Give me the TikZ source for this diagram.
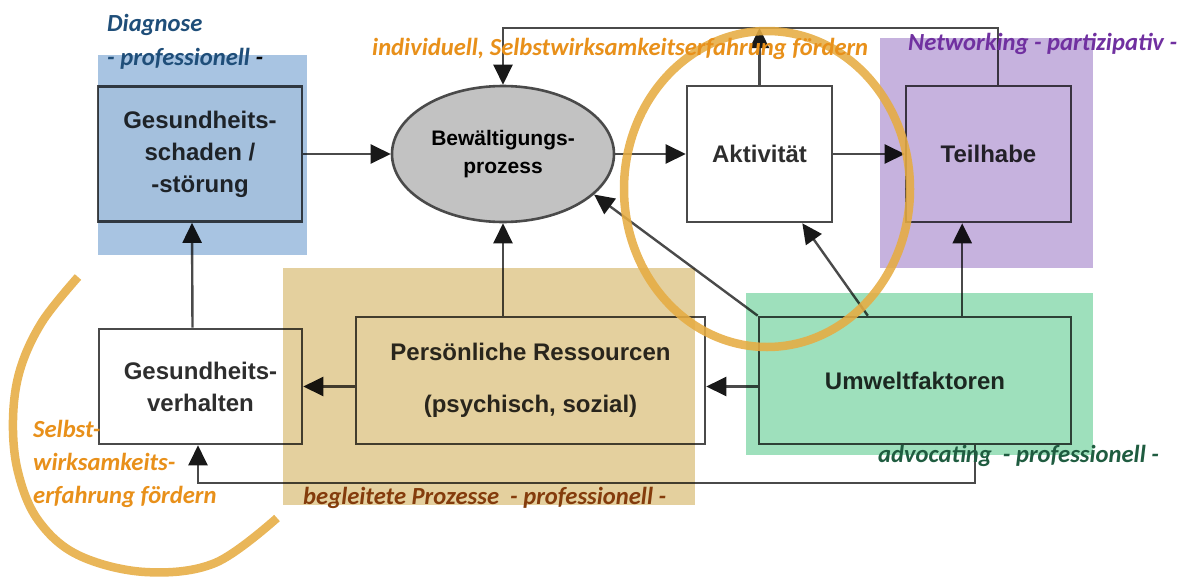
\documentclass[tikz,border=0pt]{standalone}
\usepackage{fontspec}
\setmainfont{Liberation Sans}
\newfontfamily\labfont{Carlito}
\usetikzlibrary{arrows.meta,calc,shapes.geometric}

\definecolor{linegray}{HTML}{4A4A4A}
\definecolor{txtgray}{HTML}{2E2E2E}
\definecolor{ellgray}{HTML}{C2C2C2}
\definecolor{ovblue}{HTML}{A8C4E2}
\definecolor{ovtan}{HTML}{E4D09E}
\definecolor{ovgreen}{HTML}{9EE0BC}
\definecolor{ovpurple}{HTML}{C6B2DE}
\definecolor{ringcol}{HTML}{E6AC42}
\definecolor{labblue}{HTML}{1F4E79}
\definecolor{laborange}{HTML}{E8901A}
\definecolor{labpurple}{HTML}{7030A0}
\definecolor{labbrown}{HTML}{843C0C}
\definecolor{labgreen}{HTML}{1F5C40}

\begin{document}
\begin{tikzpicture}[x=1pt,y=-1pt,
  line/.style={draw=linegray, line width=2.4pt},
  arr/.style={line, -{Triangle[length=20pt 0, width=19pt 0, color=black!90]}},
  box/.style={draw=linegray, line width=2.6pt, fill=white, rectangle,
    inner sep=0pt, align=center, text=txtgray,
    font=\fontsize{24}{32}\selectfont\bfseries},
  lab/.style={anchor=base west, inner sep=0pt,
    font=\fontsize{24.6}{28}\selectfont\labfont\bfseries\itshape},
  ring/.style={draw=ringcol, line width=8.5pt, opacity=0.88},
]
\useasboundingbox (0,0) rectangle (1186,576);

% model boxes
\node[box, fill=black!2, minimum width=204pt, minimum height=135pt] (gs) at (200,154)
  {Gesundheits-\\schaden /\\-störung};
\node[ellipse, draw=linegray, line width=2.6pt, fill=ellgray, inner sep=0pt,
  minimum width=222pt, minimum height=136pt, align=center, text=black,
  font=\fontsize{21}{28}\selectfont\bfseries] (bp) at (503,154)
  {Bewältigungs-\\prozess};
\node[box, minimum width=145pt, minimum height=136pt] (akt) at (759.5,154) {Aktivität};
\node[box, minimum width=165pt, minimum height=136pt] (th) at (988.5,154) {Teilhabe};
\node[box, minimum width=203pt, minimum height=115pt] (gv) at (200.5,386.5)
  {Gesundheits-\\verhalten};
\node[box, minimum width=349pt, minimum height=127pt] (pr) at (530.5,380.5)
  {Persönliche Ressourcen\\[20pt](psychisch, sozial)};
\node[box, minimum width=312pt, minimum height=127pt] (uw) at (915,380.5) {Umweltfaktoren};

% helper levels for the feedback loops
\coordinate (topy) at (0,28);
\coordinate (boty) at (0,483);
\coordinate (u2) at ($(uw.north west)!0.35!(uw.north east)$);
\coordinate (u3) at ($(uw.north west)!0.65!(uw.north east)$);

% connectors
\draw[arr] (gs.east) -- (bp.west);
\draw[arr] (bp.east) -- (akt.west);
\draw[arr] (akt.east) -- (th.west);
\draw[arr] ([xshift=-8pt]gv.north) -- ([xshift=-8pt]gs.south);
\draw[arr] (pr.west |- gv.east) -- (gv.east);
\draw[arr] (uw.west |- gv.east) -- (pr.east |- gv.east);
\draw[arr] (bp.south |- pr.north) -- (bp.south);
\draw[arr] (uw.north west) -- (bp.-24);
\draw[arr] (u2) -- ($(akt.south west)!0.79!(akt.south east)$);
\draw[arr] (u3) -- (u3 |- th.south);
\draw[arr] ([xshift=9.5pt]th.north) |- (bp.north |- topy) -- (bp.north);
\draw[arr] (akt.north) -- (akt.north |- topy);
\draw[arr] ([xshift=60pt]uw.south) |- ([xshift=-2.5pt]gv.south |- boty)
  -- ([xshift=-2.5pt]gv.south);

% coloured areas laid over the model
\begin{scope}[blend mode=multiply]
  \fill[ovblue] (98,55) rectangle (307,255);
  \fill[ovtan] (283,268) rectangle (695,505);
  \fill[ovpurple] (880,38) rectangle (1093,268);
  \fill[ovgreen] (746,293) rectangle (1093,455);
\end{scope}

% rings
\draw[ring] (767,189) ellipse [x radius=143pt, y radius=158pt];
\draw[ring] plot[smooth, tension=0.6] coordinates {(78,277) (42,322) (20,370) (13,420)
  (18,472) (38,520) (78,555) (145,572) (215,563) (277,518)};

% labels
\node[lab, text=labblue] (l1) at (107,31) {Diagnose};
\node[lab, text=labblue] (l2) at (107,65) {- professionell \textcolor{black}{-}};
\node[lab, text=laborange] (l3) at (372,55) {individuell, Selbstwirksamkeitserfahrung fördern};
\node[lab, text=labpurple] (l4) at (908,50) {Networking - partizipativ -};
\node[lab, text=laborange] (l5) at (33,437) {Selbst-};
\node[lab, text=laborange] (l6) at (33,470) {wirksamkeits-};
\node[lab, text=laborange] (l7) at (33,503) {erfahrung fördern};
\node[lab, text=labbrown] (l8) at (303,504) {begleitete Prozesse\ \ - professionell -};
\node[lab, text=labgreen] (l9) at (878,462) {advocating\ \ - professionell -};
\end{tikzpicture}
\end{document}
